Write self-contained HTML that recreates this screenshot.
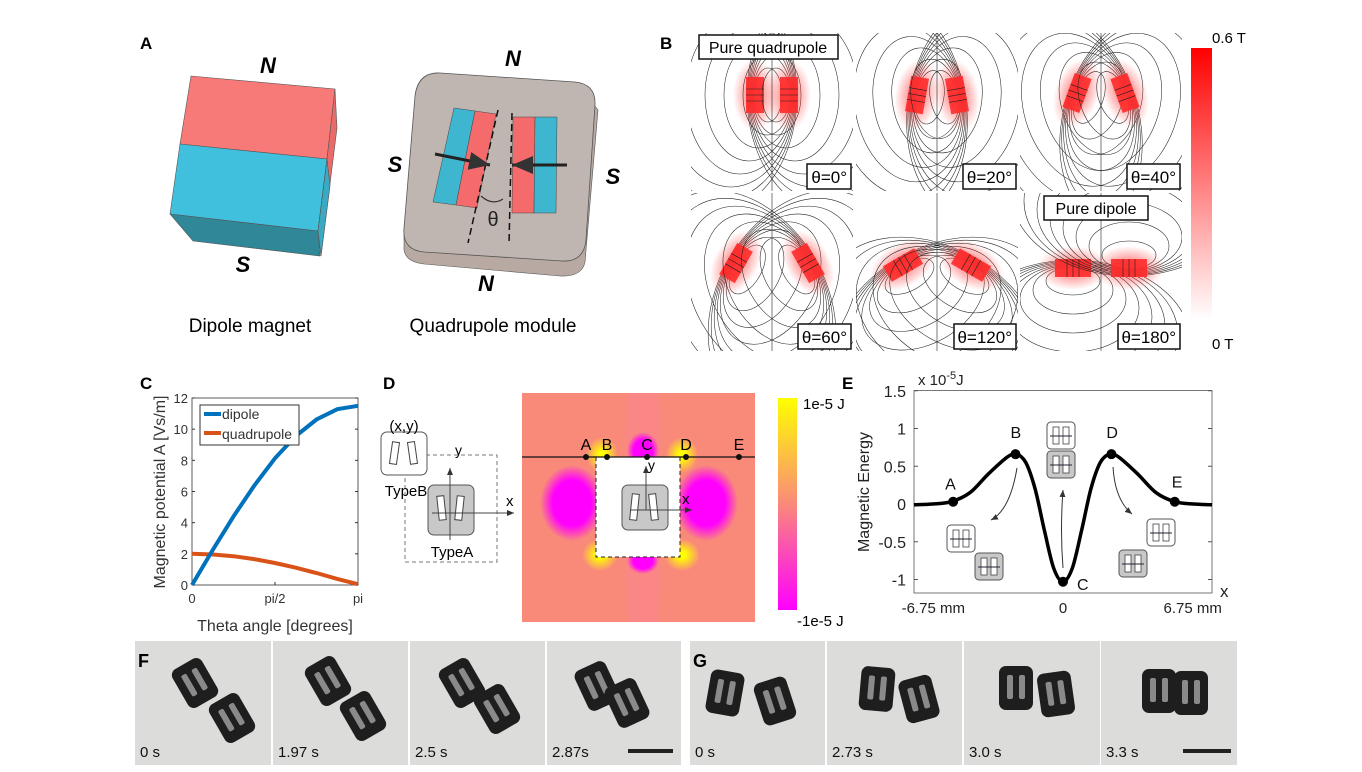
<!DOCTYPE html>
<html><head><meta charset="utf-8"><style>
html,body{margin:0;padding:0;background:#fff;}
svg{display:block;font-family:"Liberation Sans",Arial,sans-serif;}
</style></head><body>
<svg id="fig" width="1362" height="772" viewBox="0 0 1362 772" xmlns="http://www.w3.org/2000/svg">
<defs>
 <linearGradient id="redbar" x1="0" y1="0" x2="0" y2="1"><stop offset="0" stop-color="#ff0000"/><stop offset="1" stop-color="#ffffff"/></linearGradient>
 <linearGradient id="ebar" x1="0" y1="0" x2="0" y2="1"><stop offset="0" stop-color="#ffff00"/><stop offset="0.5" stop-color="#f98a7a"/><stop offset="1" stop-color="#ff00ff"/></linearGradient>
 <radialGradient id="mag"><stop offset="0.6" stop-color="#ff00ff"/><stop offset="1" stop-color="#ff00ff" stop-opacity="0"/></radialGradient>
 <radialGradient id="yel"><stop offset="0.2" stop-color="#ffff00"/><stop offset="1" stop-color="#ffff00" stop-opacity="0"/></radialGradient>
 <radialGradient id="rglow"><stop offset="0.2" stop-color="#ff3030" stop-opacity="0.6"/><stop offset="1" stop-color="#ff3030" stop-opacity="0"/></radialGradient>
 <marker id="arr" markerWidth="8" markerHeight="8" refX="7" refY="4" orient="auto"><path d="M0,1 L7,4 L0,7 z" fill="#333"/></marker>
</defs>

<!-- Panel A -->
<g>
 <text x="140" y="49" font-size="17" font-weight="bold">A</text>
 <g stroke="#555" stroke-width="0.6">
  <polygon points="191,76 335,89 327,159 180,144" fill="#f77a78"/>
  <polygon points="180,144 327,159 318,231 170,214" fill="#40c0dc"/>
  <polygon points="170,214 318,231 320,256 193,241" fill="#2f8797"/>
  <polygon points="335,89 337,128 321,256 318,231 327,159" fill="#e86b6a"/>
  <polygon points="327,159 330,186 321,256 318,231" fill="#3aa9c2"/>
 </g>
 <text x="268" y="73" font-size="22" font-weight="bold" font-style="italic" text-anchor="middle">N</text>
 <text x="243" y="272" font-size="22" font-weight="bold" font-style="italic" text-anchor="middle">S</text>
 <text x="250" y="332" font-size="19" text-anchor="middle">Dipole magnet</text>

 <g>
  <path d="M404,235 L404,250 Q406,262 424,264 L560,276 Q582,277 585,262 L598,110 L590,100 Z" fill="#b8aaa2" stroke="#555" stroke-width="0.6"/>
  <path d="M440,73 L575,82 Q596,84 595,105 L586,240 Q584,262 562,261 L424,252 Q402,250 404,228 L415,96 Q418,72 440,73 Z" fill="#c0b6b1" stroke="#555" stroke-width="0.8"/>
  <polygon points="454,108 475,111 456,205 433,202" fill="#3fb6cf" stroke="#444" stroke-width="0.5"/>
  <polygon points="475,111 496,114 477,208 456,205" fill="#f56b6b" stroke="#444" stroke-width="0.5"/>
  <polygon points="513,117 535,117 534,213 512,213" fill="#f56b6b" stroke="#444" stroke-width="0.5"/>
  <polygon points="535,117 557,117 556,213 534,213" fill="#3fb6cf" stroke="#444" stroke-width="0.5"/>
  <line x1="498" y1="110" x2="468" y2="243" stroke="#111" stroke-width="1.5" stroke-dasharray="7,4"/>
  <line x1="512" y1="113" x2="509" y2="245" stroke="#111" stroke-width="1.5" stroke-dasharray="7,4"/>
  <line x1="435" y1="154" x2="490" y2="165" stroke="#222" stroke-width="3" marker-end="url(#arr)"/>
  <line x1="567" y1="165" x2="512" y2="165" stroke="#222" stroke-width="3" marker-end="url(#arr)"/>
  <path d="M481,196 Q492,206 503,199" fill="none" stroke="#333" stroke-width="1.2"/>
  <text x="493" y="226" font-size="20" text-anchor="middle" fill="#222">θ</text>
 </g>
 <text x="513" y="66" font-size="22" font-weight="bold" font-style="italic" text-anchor="middle">N</text>
 <text x="395" y="172" font-size="22" font-weight="bold" font-style="italic" text-anchor="middle">S</text>
 <text x="613" y="184" font-size="22" font-weight="bold" font-style="italic" text-anchor="middle">S</text>
 <text x="486" y="291" font-size="22" font-weight="bold" font-style="italic" text-anchor="middle">N</text>
 <text x="493" y="332" font-size="19" text-anchor="middle">Quadrupole module</text>
</g>

<!-- Panel B -->
<g>
 <text x="660" y="49" font-size="17" font-weight="bold">B</text>
 <g id="bpanels"></g>
 <rect x="1191" y="48" width="21" height="272" fill="url(#redbar)"/>
 <text x="1212" y="43" font-size="15">0.6 T</text>
 <text x="1212" y="349" font-size="15">0 T</text>
</g>

<!-- Panel C -->
<g id="panelC">
 <text x="140" y="389" font-size="17" font-weight="bold">C</text>
</g>

<!-- Panel D -->
<g>
 <text x="383" y="389" font-size="17" font-weight="bold">D</text>
 <g>
  <rect x="405" y="455" width="92" height="107" fill="none" stroke="#777" stroke-width="1" stroke-dasharray="4,3"/>
  <rect x="381" y="432" width="46" height="43" rx="6" fill="#fff" stroke="#555"/>
  <rect x="391" y="442" width="7" height="22" fill="#fff" stroke="#444" transform="rotate(8 394 453)"/>
  <rect x="409" y="442" width="7" height="22" fill="#fff" stroke="#444" transform="rotate(-8 412 453)"/>
  <rect x="428" y="485" width="46" height="50" rx="6" fill="#c8c8c8" stroke="#555"/>
  <rect x="438" y="496" width="7" height="24" fill="#fff" stroke="#444" transform="rotate(-6 441 508)"/>
  <rect x="456" y="496" width="7" height="24" fill="#fff" stroke="#444" transform="rotate(6 459 508)"/>
  <line x1="450" y1="540" x2="450" y2="468" stroke="#444" marker-end="url(#arr)"/>
  <line x1="432" y1="513" x2="514" y2="513" stroke="#444" marker-end="url(#arr)"/>
  <text x="404" y="431" font-size="15" text-anchor="middle">(x,y)</text>
  <text x="406" y="496" font-size="15" text-anchor="middle">TypeB</text>
  <text x="452" y="557" font-size="15" text-anchor="middle">TypeA</text>
  <text x="455" y="455" font-size="14">y</text>
  <text x="506" y="506" font-size="15">x</text>
 </g>
 <g>
  <svg x="522" y="393" width="233" height="229" overflow="hidden">
   <rect width="233" height="229" fill="#f98a7a"/>
   <ellipse cx="121" cy="110" rx="18" ry="200" fill="#fb80a0" opacity="0.3"/>
   <ellipse cx="50" cy="110" rx="32" ry="38" fill="url(#mag)"/>
   <ellipse cx="184" cy="110" rx="32" ry="38" fill="url(#mag)"/>
   <ellipse cx="121" cy="58" rx="16" ry="19" fill="url(#mag)"/>
   <ellipse cx="121" cy="168" rx="16" ry="13" fill="url(#mag)"/>
   <ellipse cx="80" cy="62" rx="16" ry="18" fill="url(#yel)"/>
   <ellipse cx="160" cy="62" rx="16" ry="18" fill="url(#yel)"/>
   <ellipse cx="78" cy="162" rx="18" ry="16" fill="url(#yel)"/>
   <ellipse cx="160" cy="162" rx="18" ry="16" fill="url(#yel)"/>
   <rect x="74" y="64" width="84" height="100" fill="#fff" stroke="#222" stroke-dasharray="4,3"/>
  </svg>
  <line x1="522" y1="457" x2="755" y2="457" stroke="#111" stroke-width="1.3"/>
  <rect x="622" y="485" width="46" height="45" rx="6" fill="#c8c8c8" stroke="#555"/>
  <rect x="631" y="494" width="7" height="26" fill="#fff" stroke="#444" transform="rotate(6 634 507)"/>
  <rect x="650" y="494" width="7" height="26" fill="#fff" stroke="#444" transform="rotate(-6 653 507)"/>
  <line x1="646" y1="510" x2="646" y2="466" stroke="#444" marker-end="url(#arr)"/>
  <line x1="630" y1="510" x2="692" y2="510" stroke="#444" marker-end="url(#arr)"/>
  <text x="648" y="470" font-size="14">y</text>
  <text x="682" y="504" font-size="15">x</text>
  <g id="dpoints"></g>
 </g>
 <rect x="778" y="398" width="19" height="212" fill="url(#ebar)"/>
 <text x="803" y="409" font-size="15">1e-5 J</text>
 <text x="797" y="626" font-size="15">-1e-5 J</text>
</g>

<!-- Panel E -->
<g id="panelE">
 <text x="842" y="389" font-size="17" font-weight="bold">E</text>
 <text x="918" y="385" font-size="15" fill="#222">x 10<tspan dy="-6" font-size="11">-5</tspan><tspan dy="6">J</tspan></text>
</g>

<!-- Panels F, G -->
<g id="photos"></g>

<script>
// ---------- Panel C data ----------
const cTheta = [0, 0.3927, 0.7854, 1.1781, 1.5708, 1.9635, 2.3562, 2.7489, 3.1416];
const cDipole = [0, 2.25, 4.4, 6.38, 8.13, 9.56, 10.62, 11.28, 11.5];
const cQuadrupole = [2.0, 1.96, 1.85, 1.66, 1.41, 1.11, 0.77, 0.39, 0.05];
const cYTicks = [0, 2, 4, 6, 8, 10, 12];
const cXTickVals = [0, 1.5708, 3.1416];
const cXTickLabels = ["0", "pi/2", "pi"];

// ---------- Panel E data ----------
const eX = [-8, -7, -6, -5, -4, -3, -2.5, -2, -1.5, -1, -0.5, 0, 0.5, 1, 1.5, 2, 2.5, 3, 4, 5, 6, 7, 8];
const eEnergy = [-0.01, 0.0, 0.03, 0.15, 0.4, 0.62, 0.66, 0.55, 0.2, -0.35, -0.85, -1.03, -0.85, -0.35, 0.2, 0.55, 0.66, 0.62, 0.4, 0.15, 0.03, 0.0, -0.01];
const ePointNames = ["A", "B", "C", "D", "E"];
const ePointX = [-5.9, -2.55, 0, 2.6, 6.0];
const ePointE = [0.03, 0.66, -1.03, 0.66, 0.03];
const eYTicks = [-1, -0.5, 0, 0.5, 1, 1.5];
const eXTickVals = [-6.75, 0, 6.75];
const eXTickLabels = ["-6.75 mm", "0", "6.75 mm"];

const NS = "http://www.w3.org/2000/svg";
function mk(tag, attrs, parent) {
  const el = document.createElementNS(NS, tag);
  for (const k in attrs) el.setAttribute(k, attrs[k]);
  parent.appendChild(el);
  return el;
}

// ---------- Panel B ----------
(function(){
  const g = document.getElementById('bpanels');
  const cols = [691, 856, 1020], rows = [33, 193], W = 162, H = 158;
  const angles = [0, 20, 40, 60, 120, 180];
  const labels = ["θ=0°", "θ=20°", "θ=40°", "θ=60°", "θ=120°", "θ=180°"];
  const mdx = [17, 20, 24, 36, 34, 28];
  const mdy = [62, 62, 60, 70, 72, 75];
  for (let i = 0; i < 6; i++) {
    const x0 = cols[i % 3], y0 = rows[Math.floor(i / 3)];
    const sv = mk('svg', {x: x0, y: y0, width: W, height: H, overflow: 'hidden'}, g);
    
    
    mk('rect', {width: W, height: H, fill: '#fff'}, sv);
    const cx = W / 2;
    [-1, 1].forEach(s => {
      const mx = cx + s * mdx[i], my = mdy[i];
      const rot = angles[i] === 180 ? 90 : -s * angles[i] / 2;
      const lg = mk('g', {transform: `rotate(${rot} ${mx} ${my})`}, sv);
      for (let k = 1; k <= 8; k++) {
        mk('ellipse', {cx: mx - s * (4 + k * 9), cy: my, rx: 4 + k * 10, ry: 14 + k * 13, fill: 'none', stroke: '#222', 'stroke-width': 0.55}, lg);
      }
      mk('ellipse', {cx: mx, cy: my, rx: 22, ry: 36, fill: 'url(#rglow)'}, lg);
      mk('rect', {x: mx - 9, y: my - 18, width: 18, height: 36, fill: '#ff2a2a', opacity: 0.9}, lg);
      for (let k = -1; k <= 1; k++) mk('line', {x1: mx - 9, y1: my + k * 6, x2: mx + 9, y2: my + k * 6, stroke: '#222', 'stroke-width': 0.6}, lg);
    });
    mk('line', {x1: cx, y1: 0, x2: cx, y2: H, stroke: '#222', 'stroke-width': 0.6}, sv);
    const lw = labels[i].length * 9 + 8;
    mk('rect', {x: W - lw - 2, y: H - 27, width: lw, height: 25, fill: '#fff', stroke: '#111', 'stroke-width': 1.5}, sv);
    const t = mk('text', {x: W - 6, y: H - 8, 'font-size': 17, 'text-anchor': 'end'}, sv);
    t.textContent = labels[i];
    
    
  }
  const q = mk('g', {}, g);
  mk('rect', {x: 699, y: 35, width: 139, height: 24, fill: '#fff', stroke: '#111', 'stroke-width': 1.5}, q);
  const qt = mk('text', {x: 768, y: 53, 'font-size': 16, 'text-anchor': 'middle'}, q);
  qt.textContent = "Pure quadrupole";
  
  
  mk('rect', {x: 1044, y: 196, width: 104, height: 24, fill: '#fff', stroke: '#111', 'stroke-width': 1.5}, q);
  const dt = mk('text', {x: 1096, y: 214, 'font-size': 16, 'text-anchor': 'middle'}, q);
  dt.textContent = "Pure dipole";
  
  
})();

// ---------- Panel C ----------
(function(){
  const g = document.getElementById('panelC');
  const L = 192, R = 358, T = 398, B = 585;
  const xs = v => L + v / Math.PI * (R - L);
  const ys = v => B - v / 12 * (B - T);
  mk('rect', {x: L, y: T, width: R - L, height: B - T, fill: '#fff', stroke: '#333', 'stroke-width': 0.8}, g);
  cYTicks.forEach(v => {
    mk('line', {x1: L, y1: ys(v), x2: L + 3, y2: ys(v), stroke: '#333'}, g);
    mk('line', {x1: R, y1: ys(v), x2: R - 3, y2: ys(v), stroke: '#333'}, g);
    const t = mk('text', {x: L - 4, y: ys(v) + 5, 'font-size': 13, 'text-anchor': 'end', fill: '#333'}, g);
    t.textContent = v;
    
    
  });
  cXTickVals.forEach((v, i) => {
    mk('line', {x1: xs(v), y1: B, x2: xs(v), y2: B - 3, stroke: '#333'}, g);
    const t = mk('text', {x: xs(v), y: B + 18, 'font-size': 13, 'text-anchor': 'middle', fill: '#333'}, g);
    t.textContent = cXTickLabels[i];
    
    
  });
  const pathOf = arr => arr.map((v, i) => (i ? 'L' : 'M') + xs(cTheta[i]).toFixed(1) + ',' + ys(v).toFixed(1)).join(' ');
  const q = mk('path', {d: pathOf(cQuadrupole), fill: 'none', stroke: '#d95319', 'stroke-width': 4}, g);
  
  
  const d = mk('path', {d: pathOf(cDipole), fill: 'none', stroke: '#0072bd', 'stroke-width': 4}, g);
  
  
  const lg = mk('g', {}, g);
  
  
  mk('rect', {x: 200, y: 405, width: 99, height: 40, fill: '#fff', stroke: '#333', 'stroke-width': 1}, lg);
  mk('line', {x1: 204, y1: 414, x2: 221, y2: 414, stroke: '#0072bd', 'stroke-width': 4}, lg);
  mk('line', {x1: 204, y1: 433, x2: 221, y2: 433, stroke: '#d95319', 'stroke-width': 4}, lg);
  const t1 = mk('text', {x: 222, y: 419, 'font-size': 14, fill: '#333'}, lg); t1.textContent = 'dipole';
  const t2 = mk('text', {x: 222, y: 439, 'font-size': 14, fill: '#333'}, lg); t2.textContent = 'quadrupole';
  const xl = mk('text', {x: 275, y: 631, 'font-size': 16, 'text-anchor': 'middle', fill: '#333'}, g);
  xl.textContent = 'Theta angle [degrees]';
  
  
  const yl = mk('text', {x: 0, y: 0, 'font-size': 16, 'text-anchor': 'middle', fill: '#333', transform: 'translate(165,492) rotate(-90)'}, g);
  yl.textContent = 'Magnetic potential A [Vs/m]';
  
  
})();

// ---------- Panel D points ----------
(function(){
  const g = document.getElementById('dpoints');
  const dx = [586, 607, 647, 686, 739];
  ePointNames.forEach((n, i) => {
    const c = mk('circle', {cx: dx[i], cy: 457, r: 3, fill: '#111'}, g);
    
    
    const t = mk('text', {x: dx[i], y: 450, 'font-size': 16, 'text-anchor': 'middle'}, g);
    t.textContent = n;
  });
})();

// ---------- Panel E ----------
(function(){
  const g = document.getElementById('panelE');
  const L = 914, R = 1212, T = 390.5, B = 593;
  const xs = v => 1063 + v * (R - L) / 16;
  const ys = v => 504 - v * 75.5;
  mk('rect', {x: L, y: T, width: R - L, height: B - T, fill: '#fff', stroke: '#555', 'stroke-width': 0.8}, g);
  eYTicks.forEach(v => {
    mk('line', {x1: L, y1: ys(v), x2: L + 4, y2: ys(v), stroke: '#555'}, g);
    mk('line', {x1: R, y1: ys(v), x2: R - 4, y2: ys(v), stroke: '#555'}, g);
    const t = mk('text', {x: L - 8, y: ys(v) + 6, 'font-size': 16, 'text-anchor': 'end', fill: '#222'}, g);
    t.textContent = v;
    
    
  });
  eXTickVals.forEach((v, i) => {
    const t = mk('text', {x: xs(v) + (i === 0 ? -4 : i === 2 ? 4 : 0), y: B + 20, 'font-size': 15, 'text-anchor': 'middle', fill: '#222'}, g);
    t.textContent = eXTickLabels[i];
    
    
  });
  const P = eX.map((x, i) => [xs(x), ys(eEnergy[i])]);
  let d = 'M' + P[0][0] + ',' + P[0][1];
  for (let i = 0; i < P.length - 1; i++) {
    const p0 = P[Math.max(0, i - 1)], p1 = P[i], p2 = P[i + 1], p3 = P[Math.min(P.length - 1, i + 2)];
    const c1 = [p1[0] + (p2[0] - p0[0]) / 6, p1[1] + (p2[1] - p0[1]) / 6];
    const c2 = [p2[0] - (p3[0] - p1[0]) / 6, p2[1] - (p3[1] - p1[1]) / 6];
    d += ` C${c1[0].toFixed(1)},${c1[1].toFixed(1)} ${c2[0].toFixed(1)},${c2[1].toFixed(1)} ${p2[0].toFixed(1)},${p2[1].toFixed(1)}`;
  }
  const line = mk('path', {d: d, fill: 'none', stroke: '#000', 'stroke-width': 3.5}, g);
  
  
  const off = [[-8, -12], [-5, -16], [14, 8], [-5, -16], [-3, -14]];
  ePointNames.forEach((n, i) => {
    const c = mk('circle', {cx: xs(ePointX[i]), cy: ys(ePointE[i]), r: 5, fill: '#000'}, g);
    
    
    const t = mk('text', {x: xs(ePointX[i]) + off[i][0], y: ys(ePointE[i]) + off[i][1], 'font-size': 16, fill: '#111'}, g);
    t.textContent = n;
  });
  function mod(x, y, gray) {
    mk('rect', {x: x, y: y, width: 28, height: 27, rx: 4, fill: gray ? '#c8c8c8' : '#fff', stroke: '#555'}, g);
    mk('rect', {x: x + 6, y: y + 5, width: 6, height: 17, fill: '#fff', stroke: '#444', 'stroke-width': 0.8}, g);
    mk('rect', {x: x + 16, y: y + 5, width: 6, height: 17, fill: '#fff', stroke: '#444', 'stroke-width': 0.8}, g);
    mk('line', {x1: x + 3, y1: y + 14, x2: x + 25, y2: y + 14, stroke: '#223'}, g);
  }
  mod(947, 525, false); mod(975, 553, true);
  mod(1047, 422, false); mod(1047, 451, true);
  mod(1147, 519, false); mod(1119, 550, true);
  mk('path', {d: 'M1017,468 Q1010,510 991,520', fill: 'none', stroke: '#333', 'marker-end': 'url(#arr)'}, g);
  mk('path', {d: 'M1063,568 Q1060,530 1063,490', fill: 'none', stroke: '#333', 'marker-end': 'url(#arr)'}, g);
  mk('path', {d: 'M1113,467 Q1115,500 1132,514', fill: 'none', stroke: '#333', 'marker-end': 'url(#arr)'}, g);
  const yl = mk('text', {x: 0, y: 0, 'font-size': 16, 'text-anchor': 'middle', fill: '#222', transform: 'translate(869,492) rotate(-90)'}, g);
  yl.textContent = 'Magnetic Energy';
  
  
  const xl = mk('text', {x: 1220, y: 597, 'font-size': 17, fill: '#222'}, g);
  xl.textContent = 'x';
  
  
})();

// ---------- Photos F, G ----------
(function(){
  const g = document.getElementById('photos');
  const tiles = [[135, 271], [273, 408], [410, 545], [547, 681], [690, 825], [827, 962], [964, 1100], [1101, 1237]];
  const times = ["0 s", "1.97 s", "2.5 s", "2.87s", "0 s", "2.73 s", "3.0 s", "3.3 s"];
  const blocks = [
    [[60, 42, -30], [97, 77, -30]],
    [[55, 40, -30], [90, 75, -30]],
    [[52, 42, -30], [87, 68, -30]],
    [[50, 45, -25], [80, 62, -25]],
    [[35, 52, 10], [85, 60, -18]],
    [[50, 48, 5], [92, 58, -15]],
    [[52, 47, 0], [92, 53, -8]],
    [[58, 50, 0], [90, 52, 0]]
  ];
  tiles.forEach((t, i) => {
    const w = t[1] - t[0];
    const r = mk('rect', {x: t[0], y: 641, width: w, height: 124, fill: '#dcdcda'}, g);
    
    
    blocks[i].forEach(b => {
      const cx = t[0] + b[0], cy = 641 + b[1];
      const bg = mk('g', {transform: `rotate(${b[2]} ${cx} ${cy})`}, g);
      mk('rect', {x: cx - 17, y: cy - 22, width: 34, height: 44, rx: 7, fill: '#1e1e1e'}, bg);
      mk('rect', {x: cx - 9, y: cy - 13, width: 6, height: 24, rx: 2, fill: '#8a8a8a'}, bg);
      mk('rect', {x: cx + 3, y: cy - 13, width: 6, height: 24, rx: 2, fill: '#8a8a8a'}, bg);
    });
    const tt = mk('text', {x: t[0] + 5, y: 757, 'font-size': 15, fill: '#111'}, g);
    tt.textContent = times[i];
    
    
  });
  mk('rect', {x: 628, y: 749, width: 45, height: 4, fill: '#222'}, g);
  mk('rect', {x: 1183, y: 749, width: 48, height: 4, fill: '#222'}, g);
  const f = mk('text', {x: 138, y: 667, 'font-size': 18, 'font-weight': 'bold'}, g); f.textContent = 'F';
  
  
  const gg = mk('text', {x: 693, y: 667, 'font-size': 18, 'font-weight': 'bold'}, g); gg.textContent = 'G';
  
  
})();
</script>
</svg>
</body></html>
